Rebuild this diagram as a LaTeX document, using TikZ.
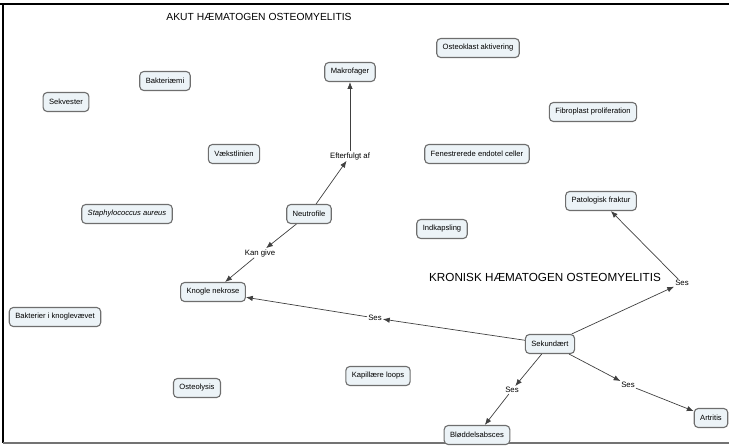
\documentclass[tikz,border=0pt]{standalone}
\usepackage{fontspec}
\setmainfont{Liberation Sans}
\usetikzlibrary{arrows.meta}
\definecolor{cmapfill}{RGB}{236,243,247}
\definecolor{cmapline}{RGB}{110,110,110}
\tikzset{
  >={Latex[length=2.4mm,width=1.9mm]},
  link/.style={->,draw=black!75,line width=0.7pt},
  concept/.style={
    draw=cmapline,
    fill=cmapfill,
    line width=1.1pt,
    rounded corners=4pt,
    font=\fontsize{7.6}{9}\selectfont,
    inner xsep=6pt,
    minimum height=19pt
  },
  linklabel/.style={font=\fontsize{7.8}{9}\selectfont,inner sep=1pt,fill=white},
  heading/.style={font=\fontsize{10.3}{12}\selectfont}
}

\begin{document}
\begin{tikzpicture}[x=1pt,y=-1pt]
  \useasboundingbox (0,0) rectangle (729,445);
  % frame
  \draw[black,line width=2pt] (0,4) -- (729,4);
  \draw[black,line width=2pt] (3,4) -- (3,443);
  \draw[black!55,line width=1.2pt] (3,443) -- (729,443);

  \node[heading] (akut) at (259,17) {AKUT HÆMATOGEN OSTEOMYELITIS};
  \node[heading,font=\fontsize{11.7}{14}\selectfont] (kronisk) at (545,277) {KRONISK HÆMATOGEN OSTEOMYELITIS};

  % concepts
  \node[concept] (makro) at (350,72) {Makrofager};
  \node[concept] (osteoklast) at (478,48) {Osteoklast aktivering};
  \node[concept] (bakt) at (165,81) {Bakteriæmi};
  \node[concept] (sekvester) at (66,102) {Sekvester};
  \node[concept] (fibro) at (593,112) {Fibroplast proliferation};
  \node[concept] (vaekst) at (234,154) {Vækstlinien};
  \node[concept] (fenestr) at (477,154) {Fenestrerede endotel celler};
  \node[concept] (staph) at (127,214) {\itshape Staphylococcus aureus};
  \node[concept] (neutro) at (309,214) {Neutrofile};
  \node[concept] (patfrak) at (601,201) {Patologisk fraktur};
  \node[concept] (indkap) at (442,229) {Indkapsling};
  \node[concept] (nekrose) at (213,292) {Knogle nekrose};
  \node[concept] (bakvaev) at (55,317) {Bakterier i knoglevævet};
  \node[concept] (sekund) at (550,344) {Sekundært};
  \node[concept] (kapil) at (378,376) {Kapillære loops};
  \node[concept] (osteolys) at (197,388) {Osteolysis};
  \node[concept] (bloed) at (477,435) {Bløddelsabsces};
  \node[concept] (artritis) at (711,418) {Artritis};

  % link phrases
  \node[linklabel] (efter) at (350,156) {Efterfulgt af};
  \node[linklabel] (kangive) at (260,253) {Kan give};
  \node[linklabel] (sesA) at (375,318) {Ses};
  \node[linklabel] (sesB) at (682,283) {Ses};
  \node[linklabel] (sesC) at (512,390) {Ses};
  \node[linklabel] (sesD) at (628,385) {Ses};

  \draw[link] (neutro) -- (efter);
  \draw[link] (efter) -- (makro);
  \draw[link] (neutro) -- (kangive);
  \draw[link] (kangive) -- (nekrose);
  \draw[link] (sekund) -- (sesA);
  \draw[link] (sesA) -- (nekrose);
  \draw[link] (sekund) -- (sesB);
  \draw[link] (sesB) -- (patfrak);
  \draw[link] (sekund) -- (sesC);
  \draw[link] (sesC) -- (bloed);
  \draw[link] (sekund) -- (sesD);
  \draw[link] (sesD) -- (artritis);
\end{tikzpicture}
\end{document}
